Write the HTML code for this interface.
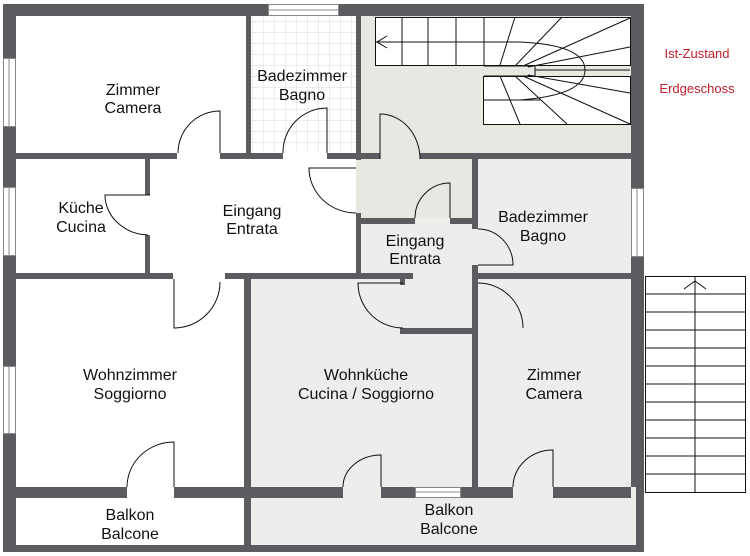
<!DOCTYPE html>
<html><head><meta charset="utf-8"><style>
html,body{margin:0;padding:0;background:#fff}
svg{display:block}
text{font-family:"Liberation Sans",sans-serif;font-size:16px;fill:#111;text-anchor:middle}
.r{font-size:13px;fill:#c0202a}
</style></head><body>
<svg width="750" height="556" viewBox="0 0 750 556" xmlns="http://www.w3.org/2000/svg">
<defs>
<pattern id="tile" width="11" height="11" patternUnits="userSpaceOnUse">
<rect width="11" height="11" fill="#fff"/><path d="M11 0V11M0 11H11" stroke="#d8d8d8" stroke-width="1"/>
</pattern>
</defs>
<rect x="3" y="4" width="641" height="548" fill="#5a5c60"/>
<rect x="16" y="16" width="230" height="137" fill="#fff"/>
<rect x="251" y="16" width="105" height="137" fill="url(#tile)"/>
<rect x="361" y="16" width="270" height="137" fill="#e7e8e1"/>
<rect x="16" y="159" width="129" height="114" fill="#fff"/>
<rect x="150" y="159" width="206" height="114" fill="#fff"/>
<rect x="361" y="159" width="111" height="59" fill="#e7e8e1"/>
<rect x="361" y="224" width="111" height="49" fill="#eeedeb"/>
<rect x="478" y="159" width="153" height="114" fill="#eeedeb"/>
<rect x="16" y="279" width="228" height="208" fill="#fff"/>
<rect x="251" y="279" width="221" height="208" fill="#eeedeb"/>
<rect x="478" y="279" width="153" height="208" fill="#eeedeb"/>
<rect x="16" y="498" width="228" height="47" fill="#fff"/>
<rect x="251" y="498" width="385" height="47" fill="#eeedeb"/>
<rect x="631" y="487" width="5" height="58" fill="#eeedeb"/>
<rect x="177" y="153" width="43" height="6" fill="#fff"/>
<rect x="283" y="153" width="44" height="6" fill="#fff"/>
<rect x="145" y="195" width="5" height="40" fill="#fff"/>
<rect x="356" y="160" width="5" height="53" fill="#e7e8e1"/>
<rect x="380" y="153" width="40" height="6" fill="#e7e8e1"/>
<rect x="415" y="218" width="35" height="6" fill="#eeedeb"/>
<rect x="472" y="229" width="6" height="36" fill="#eeedeb"/>
<rect x="413" y="273" width="59" height="6" fill="#eeedeb"/>
<rect x="173" y="273" width="52" height="6" fill="#fff"/>
<rect x="127" y="487" width="47" height="11" fill="#fff"/>
<rect x="343" y="487" width="38" height="11" fill="#eeedeb"/>
<rect x="513" y="487" width="40" height="11" fill="#eeedeb"/>
<rect x="400" y="328" width="78" height="6" fill="#5a5c60"/>
<rect x="400" y="279" width="5" height="6" fill="#5a5c60"/>
<g fill="#fff" stroke="#888" stroke-width="1">
<rect x="268.5" y="4.5" width="70" height="11"/>
<rect x="3.5" y="58.5" width="12" height="68"/>
<rect x="3.5" y="187.5" width="12" height="68"/>
<rect x="3.5" y="366.5" width="12" height="67"/>
<rect x="631.5" y="188.5" width="12" height="68"/>
<rect x="415.5" y="487.5" width="45" height="10"/>
</g>
<g stroke="#888" stroke-width="1"><path d="M268 10H339M9 58V127M9 187V256M9 366V434M637 188V257M415 492H461"/></g>
<g fill="#fff" stroke="#111" stroke-width="1">
<rect x="375.5" y="17.5" width="255" height="48"/>
<rect x="483.5" y="76.5" width="147" height="48"/>
</g>
<rect x="484" y="66" width="110" height="10" fill="#e7e8e1"/>
<g fill="none" stroke="#111" stroke-width="1">
<path d="M375 42H515M402 17V65M428 17V65M456 17V65M484 17V65M483 100H540"/>
<path d="M515 17L500 65M562 17L515 66M630 18L523 66M630 47L528 67M630 70H535M630 93L528 75M630 124L523 76M567 124L515 76M520 124L500 76"/>
<path d="M484 42H520 Q585 45 585 70 Q585 95 520 100H484"/>
<path d="M387 36L377 42L387 48"/>
<path d="M484 66H535V76H484"/>
</g>
<rect x="645.5" y="276.5" width="100" height="216" fill="#fff" stroke="#111"/>
<g stroke="#111" stroke-width="1" fill="none">
<path d="M695 277V492M646 294H745M646 312H745M646 330H745M646 348H745M646 366H745M646 384H745M646 402H745M646 420H745M646 438H745M646 456H745M646 474H745"/>
<path d="M684 289L695 281L706 289"/>
</g>
<rect x="641" y="492" width="2" height="60" fill="#5a5c60"/>
<g fill="none" stroke="#111" stroke-width="1">
<path d="M220 153V111A42 42 0 0 0 178 153"/>
<path d="M327 153V108A44 44 0 0 0 283 153"/>
<path d="M150 195H105A45 40 0 0 0 148 235"/>
<path d="M356 168H309A47 45 0 0 0 356 213"/>
<path d="M380 159V114A40 45 0 0 1 420 159"/>
<path d="M450 218V183A35 35 0 0 0 415 218"/>
<path d="M478 229A35 36 0 0 1 513 265H478"/>
<path d="M403 283H358A45 45 0 0 0 403 328"/>
<path d="M478 283A45 45 0 0 1 523 328"/>
<path d="M174 279V328A46 46 0 0 0 220 282"/>
<path d="M174 487V442A47 45 0 0 0 127 487"/>
<path d="M381 487V455A38 32 0 0 0 343 487"/>
<path d="M553 487V450A40 37 0 0 0 513 487"/>
</g>
<text x="133" y="95">Zimmer</text><text x="133" y="113">Camera</text>
<text x="302" y="81">Badezimmer</text><text x="302" y="100">Bagno</text>
<text x="81" y="213">Küche</text><text x="81" y="232">Cucina</text>
<text x="252" y="216">Eingang</text><text x="252" y="234">Entrata</text>
<text x="415" y="246">Eingang</text><text x="415" y="264">Entrata</text>
<text x="543" y="222">Badezimmer</text><text x="543" y="241">Bagno</text>
<text x="130" y="380">Wohnzimmer</text><text x="130" y="399">Soggiorno</text>
<text x="366" y="380">Wohnküche</text><text x="366" y="399">Cucina / Soggiorno</text>
<text x="554" y="380">Zimmer</text><text x="554" y="399">Camera</text>
<text x="130" y="520">Balkon</text><text x="130" y="539">Balcone</text>
<text x="449" y="515">Balkon</text><text x="449" y="534">Balcone</text>
<text class="r" x="697" y="58">Ist-Zustand</text>
<text class="r" x="697" y="93">Erdgeschoss</text>
</svg>
</body></html>
